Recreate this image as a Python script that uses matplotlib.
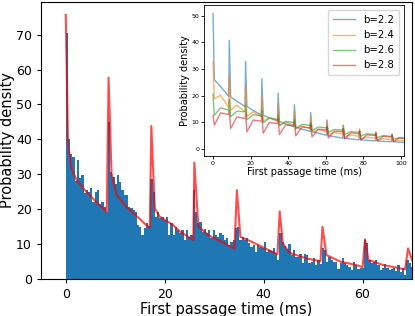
import numpy as np
import matplotlib
matplotlib.use("Agg")
import matplotlib.pyplot as plt

# ---------------- main histogram (bin width 0.45 ms, starting at 0) ----------------
bin_width = 0.45
hist_heights = [
    # period 0
    70.5, 40.0, 35.9, 35.0, 28.0, 34.0, 29.0, 29.7, 24.5, 25.5, 25.0, 26.0, 22.0, 24.9, 25.4, 21.5, 22.0, 20.6, 19.2,
    45.0,
    # period 1
    30.7, 29.2, 27.3, 29.7, 27.8, 25.4, 24.0, 24.0, 20.6, 20.2, 19.7, 19.2, 15.4, 14.9, 12.5, 14.5, 15.9, 15.0,
    28.5,
    # period 2
    25.0, 17.8, 19.2, 17.3, 17.8, 16.8, 17.8, 12.5, 15.9, 12.5, 14.9, 14.0, 13.0, 14.0, 11.1, 14.0, 12.0, 12.5,
    25.4,
    # period 3
    19.2, 15.9, 16.3, 13.5, 14.4, 13.0, 14.0, 11.6, 14.0, 12.5, 12.0, 13.0, 12.5, 11.1, 11.6, 9.7, 10.6, 11.1,
    14.5,
    # period 4
    14.9, 11.1, 12.0, 11.1, 11.6, 10.1, 9.2, 9.7, 7.7, 9.7, 9.2, 8.7, 10.6, 7.7, 8.3, 8.0, 8.7, 7.3, 5.4,
    13.0,
    # period 5
    10.5, 9.5, 8.4, 9.9, 6.8, 8.2, 6.3, 6.1, 7.1, 4.4, 7.1, 6.8, 4.4, 4.9, 5.8, 3.9, 5.5, 4.2,
    8.7,
    # period 6
    8.2, 4.9, 6.3, 5.4, 4.9, 4.9, 2.9, 4.4, 5.8, 4.6, 3.9, 3.5, 2.5, 4.9, 3.9, 2.9, 3.2, 3.0,
    11.1,
    # period 7
    10.2, 5.4, 4.4, 4.9, 5.4, 3.9, 2.5, 3.2, 4.2, 3.2, 2.5, 2.9, 3.2, 2.3, 3.9, 2.0, 3.2, 1.0,
    5.4, 4.4, 3.5,
]

# ---------------- main theory curve (red) ----------------
theory_t = [
    0.0, 0.47, 1.15, 2.2, 3.85, 5.5, 7.2, 8.3,
    8.66, 9.25, 10.3, 12.3, 14.3, 16.5, 17.0,
    17.3, 18.0, 19.0, 21.7, 23.1, 25.8,
    26.0, 26.8, 28.8, 31.5, 34.1,
    34.6, 35.3, 37.6, 40.3, 42.8,
    43.25, 43.9, 45.3, 48.7, 51.5,
    51.9, 52.7, 55.5, 58.8, 60.0,
    60.5, 61.2, 64.2, 68.6,
    69.2, 70.0, 70.6,
]
theory_y = [
    75.7, 38.8, 31.6, 28.3, 25.4, 23.0, 20.6, 19.2,
    57.7, 30.3, 24.0, 20.6, 18.0, 15.1, 14.7,
    43.8, 20.2, 17.8, 15.4, 13.5, 11.1,
    33.3, 15.0, 12.5, 10.6, 8.6,
    25.4, 12.0, 10.6, 8.7, 7.0,
    19.3, 10.0, 7.4, 5.8, 5.0,
    14.9, 6.8, 4.9, 3.9, 3.3,
    11.3, 5.4, 3.9, 2.7,
    8.7, 5.4, 4.5,
]

# ---------------- inset curves: key values per period ----------------
period = 8.66
b_labels = ["b=2.2", "b=2.4", "b=2.6", "b=2.8"]
peak_vals = {
    "b=2.2": [50.8, 40.8, 32.9, 26.4, 21.0, 16.7, 13.7, 11.0, 9.0, 6.9, 5.9, 4.0],
    "b=2.4": [32.9, 27.7, 23.5, 20.0, 17.0, 14.5, 12.3, 10.5, 9.0, 7.7, 6.6, 5.6],
    "b=2.6": [20.6, 18.5, 16.5, 14.5, 12.7, 11.2, 9.9, 8.7, 7.7, 6.8, 6.0, 5.3],
    "b=2.8": [12.7, 14.5, 13.5, 12.4, 11.3, 10.3, 9.3, 8.4, 7.6, 6.8, 6.1, 5.5],
}
post_vals = {
    "b=2.2": [26.0, 19.6, 16.0, 12.7, 10.4, 8.3, 6.6, 5.1, 4.1, 3.5, 3.1, 2.8],
    "b=2.4": [18.9, 14.6, 12.3, 10.5, 9.0, 7.6, 6.4, 5.4, 4.6, 3.9, 3.3, 2.9],
    "b=2.6": [12.7, 12.1, 11.0, 9.8, 8.8, 7.8, 7.0, 6.2, 5.5, 4.9, 4.3, 3.8],
    "b=2.8": [9.0, 7.7, 6.5, 6.0, 5.5, 5.0, 4.6, 4.2, 3.8, 3.4, 3.1, 2.8],
}
mid_vals = {
    "b=2.2": [23.5, 18.0, 14.5, 11.7, 9.5, 7.5, 6.0, 4.7, 3.8, 3.3, 2.9, 2.6],
    "b=2.4": [20.2, 16.5, 14.0, 12.0, 10.2, 8.7, 7.4, 6.3, 5.3, 4.5, 3.9, 3.3],
    "b=2.6": [15.5, 14.2, 12.9, 11.6, 10.4, 9.3, 8.3, 7.4, 6.6, 5.8, 5.1, 4.2],
    "b=2.8": [13.6, 12.1, 10.9, 10.0, 9.1, 8.3, 7.5, 6.8, 6.1, 5.4, 4.8, 4.4],
}
pre_vals = {
    "b=2.2": [19.8, 16.0, 12.8, 10.6, 8.4, 6.7, 5.2, 4.1, 3.5, 3.1, 2.8, 2.5],
    "b=2.4": [15.7, 14.0, 12.2, 10.5, 9.0, 7.7, 6.6, 5.6, 4.8, 4.1, 3.5, 3.0],
    "b=2.6": [14.6, 14.0, 12.5, 11.2, 10.0, 8.9, 8.0, 7.1, 6.3, 5.5, 4.8, 3.6],
    "b=2.8": [13.0, 11.5, 10.5, 9.6, 8.8, 8.0, 7.2, 6.5, 5.8, 5.1, 4.5, 4.0],
}
inset_colors = ["#1f77b4", "#ff7f0e", "#2ca02c", "#d62728"]


def inset_series(lbl):
    t, y = [], []
    for k in range(len(peak_vals[lbl])):
        tk = k * period
        t += [tk, tk + 0.7, tk + 4.0, tk + period - 0.3]
        y += [peak_vals[lbl][k], post_vals[lbl][k], mid_vals[lbl][k], pre_vals[lbl][k]]
    return t, y


fig = plt.figure(figsize=(4.15, 3.16), dpi=100)
ax = fig.add_axes([0.0988, 0.118, 0.894, 0.876])

lefts = np.arange(len(hist_heights)) * bin_width
ax.bar(lefts, hist_heights, width=bin_width, align="edge", color="#1f77b4",
       linewidth=0)
ax.plot(theory_t, theory_y, color="red", alpha=0.7, lw=1.5)
ax.set_xlim(-5, 70)
ax.set_ylim(0, 79.4)
ax.set_xticks([0, 20, 40, 60])
ax.set_yticks([0, 10, 20, 30, 40, 50, 60, 70])
ax.tick_params(labelsize=9, length=3)
ax.set_xlabel("First passage time (ms)", fontsize=10.5, labelpad=1)
ax.set_ylabel("Probability density", fontsize=10.5, labelpad=1)

axin = fig.add_axes([0.4916, 0.506, 0.4819, 0.477])
for lbl, col in zip(b_labels, inset_colors):
    t, y = inset_series(lbl)
    axin.plot(t, y, color=col, alpha=0.6, lw=1.0, label=lbl)
axin.set_xlim(-4.8, 101.6)
axin.set_ylim(-2.6, 53.9)
axin.set_xticks([0, 20, 40, 60, 80, 100])
axin.set_yticks([0, 10, 20, 30, 40, 50])
axin.tick_params(labelsize=4.5, length=2, pad=1.5, width=0.6)
for s in axin.spines.values():
    s.set_linewidth(0.6)
axin.set_xlabel("First passage time (ms)", fontsize=7, labelpad=1)
axin.set_ylabel("Probability density", fontsize=7, labelpad=1)
axin.legend(loc="upper right", fontsize=7.3, handlelength=2.2, borderpad=0.45,
            labelspacing=0.5, handletextpad=0.8)

fig.savefig("out.png", dpi=100)
